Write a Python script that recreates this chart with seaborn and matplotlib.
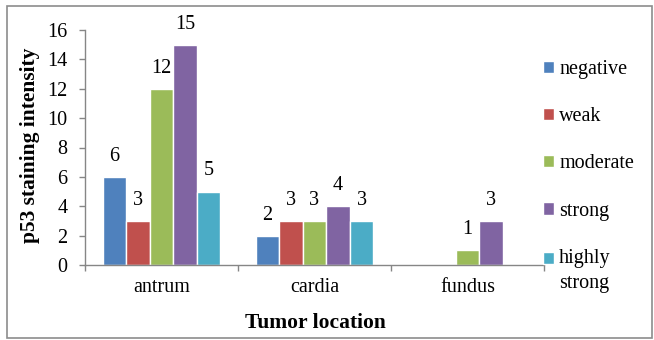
import numpy as np
import pandas as pd
import seaborn as sns
import matplotlib.pyplot as plt
from matplotlib.patches import Rectangle

# Data
locations = ["antrum", "cardia", "fundus"]
intensities = ["negative", "weak", "moderate", "strong", "highly\nstrong"]
negative = [6, 2, 0]
weak = [3, 3, 0]
moderate = [12, 3, 1]
strong = [15, 4, 3]
highly_strong = [5, 3, 0]
yticks = [0, 2, 4, 6, 8, 10, 12, 14, 16]

series = [negative, weak, moderate, strong, highly_strong]
df = pd.DataFrame({
    "location": np.repeat([locations], len(intensities), axis=0).ravel(),
    "intensity": np.repeat(intensities, len(locations)),
    "count": np.concatenate(series),
})

colors = ["#4F81BD", "#C0504D", "#9BBB59", "#8064A2", "#4BACC6"]
grey = "#868686"

sns.set_theme(style="white")
plt.rcParams["font.family"] = ["Liberation Serif", "DejaVu Serif"]
plt.rcParams["text.color"] = "black"
plt.rcParams["axes.labelcolor"] = "black"

fig = plt.figure(figsize=(6.54, 3.40), dpi=100)
ax = fig.add_axes([85 / 654, 1 - 265 / 340, (544 - 85) / 654, (265 - 30) / 340])

sns.barplot(data=df, x="location", y="count", hue="intensity",
            order=locations, hue_order=intensities, palette=colors,
            width=0.77, saturation=1, ax=ax, legend=True)

for cont, vals in zip(ax.containers, series):
    ax.bar_label(cont, labels=[str(v) if v > 0 else "" for v in vals],
                 padding=8, fontsize=14.5, color="black")

ax.set_xlim(-0.5, 2.5)
ax.set_ylim(0, 16)
ax.set_yticks(yticks)
ax.set_yticklabels([str(t) for t in yticks])
ax.set_xlabel("")
ax.set_ylabel("")

for s in ["top", "right"]:
    ax.spines[s].set_visible(False)
for s in ["left", "bottom"]:
    ax.spines[s].set_color(grey)
    ax.spines[s].set_linewidth(1.0)

ax.tick_params(axis="y", which="major", direction="out", length=4.5,
               color=grey, width=1.0, pad=8, labelsize=14.5, left=True,
               labelcolor="black")
ax.tick_params(axis="x", which="major", length=0, pad=9, labelsize=14.5,
               labelcolor="black")
ax.set_xticks([-0.5, 0.5, 1.5, 2.5], minor=True)
ax.tick_params(axis="x", which="minor", direction="out", length=4.5,
               color=grey, width=1.0, bottom=True)

ax.legend_.remove()
handles, labels = ax.get_legend_handles_labels()
leg = fig.legend(handles, labels, loc="upper left",
                 bbox_to_anchor=(543 / 654, 1 - 60 / 340),
                 frameon=False, fontsize=14.5, handlelength=0.55,
                 handleheight=0.55, handletextpad=0.25, labelspacing=1.4,
                 borderpad=0, borderaxespad=0)
leg.texts[-1].set_linespacing(1.45)
# keep the two-line entry's swatch beside its first line
last = leg.legend_handles[-1]
last.set_y(last.get_y() + 9)

fig.text(30 / 654, 1 - 145 / 340, "p53 staining intensity", rotation=90,
         ha="center", va="center", fontsize=15.5, fontweight="bold")
fig.text(315 / 654, 1 - 323 / 340, "Tumor location",
         ha="center", va="center", fontsize=15.5, fontweight="bold")

fig.patches.append(Rectangle((7 / 654, 2 / 340), 645 / 654, 332 / 340,
                             transform=fig.transFigure, fill=False,
                             edgecolor="#8c8c8c", linewidth=1.2))

fig.savefig("out.png", dpi=100)
